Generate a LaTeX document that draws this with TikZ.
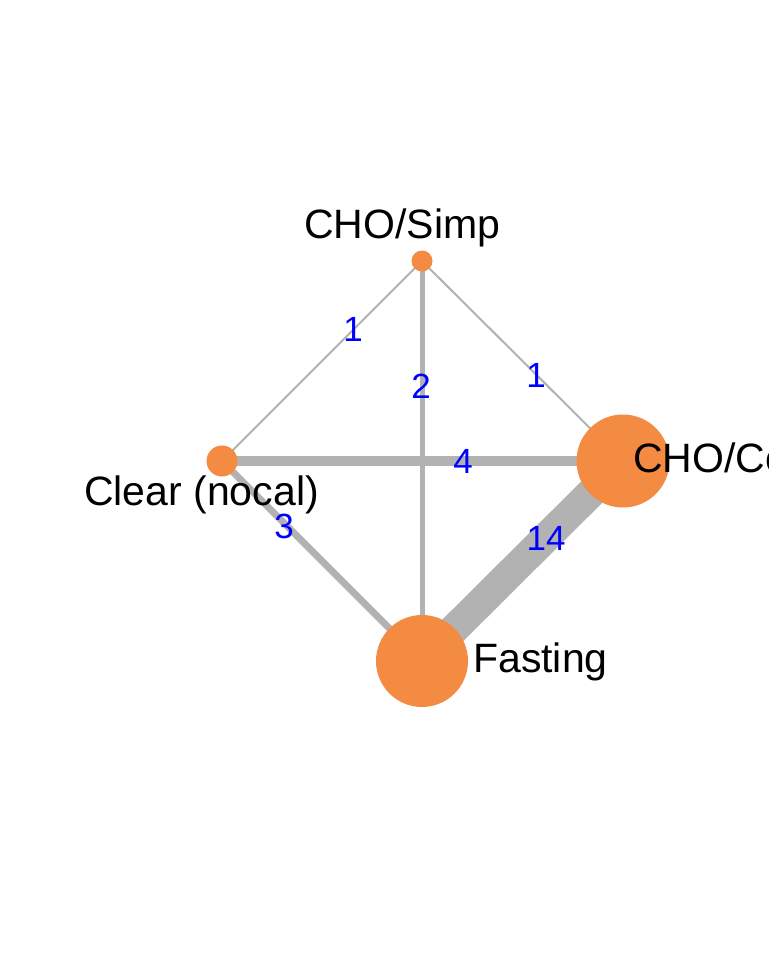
\documentclass[tikz,border=0pt]{standalone}
\usepackage{fontspec}
\setmainfont{Liberation Sans}
\definecolor{nodeorange}{RGB}{243,139,67}
\definecolor{edgegray}{RGB}{178,178,178}
\definecolor{numblue}{RGB}{0,0,255}
\begin{document}
\begin{tikzpicture}[x=1pt,y=-1pt,
  edgeline/.style={draw=edgegray,line cap=butt},
  trt/.style={circle,fill=nodeorange,draw=none,inner sep=0pt},
  trtname/.style={inner sep=0pt,font=\fontsize{41}{49}\selectfont,text=black},
  studynum/.style={inner sep=0pt,font=\fontsize{35}{42}\selectfont,text=numblue}]
\useasboundingbox (0,0) rectangle (768,960);
\clip (0,0) rectangle (768,960);
\fill[white] (0,0) rectangle (768,960);
% node centres
\coordinate (simp) at (422,261);
\coordinate (clear) at (222,461);
\coordinate (comp) at (623,461);
\coordinate (fast) at (422,661);
% edges
\draw[edgeline,line width=2pt] (simp) -- (clear);
\draw[edgeline,line width=2pt] (simp) -- (comp);
\draw[edgeline,line width=5pt] (simp) -- (fast);
\draw[edgeline,line width=10pt] (clear) -- (comp);
\draw[edgeline,line width=7pt] (clear) -- (fast);
\draw[edgeline,line width=30pt] (comp) -- (fast);
% treatment circles
\node[trt,minimum size=21pt] (nsimp) at (simp) {};
\node[trt,minimum size=31pt] (nclear) at (clear) {};
\node[trt,minimum size=93pt] (ncomp) at (comp) {};
\node[trt,minimum size=92pt] (nfast) at (fast) {};
% treatment names
\node[trtname,anchor=base west] (lsimp) at (304,238) {CHO/Simp};
\node[trtname,anchor=base west] (lclear) at (84,505) {Clear (nocal)};
\node[trtname,anchor=base west] (lcomp) at (633,472) {CHO/Comp};
\node[trtname,anchor=base west] (lfast) at (473,672) {Fasting};
% study counts
\node[studynum] (c1) at (353,329) {1};
\node[studynum] (c2) at (421,386) {2};
\node[studynum] (c3) at (536,375) {1};
\node[studynum] (c4) at (463,461) {4};
\node[studynum] (c5) at (284,526) {3};
\node[studynum] (c6) at (546,538) {14};
\end{tikzpicture}
\end{document}
